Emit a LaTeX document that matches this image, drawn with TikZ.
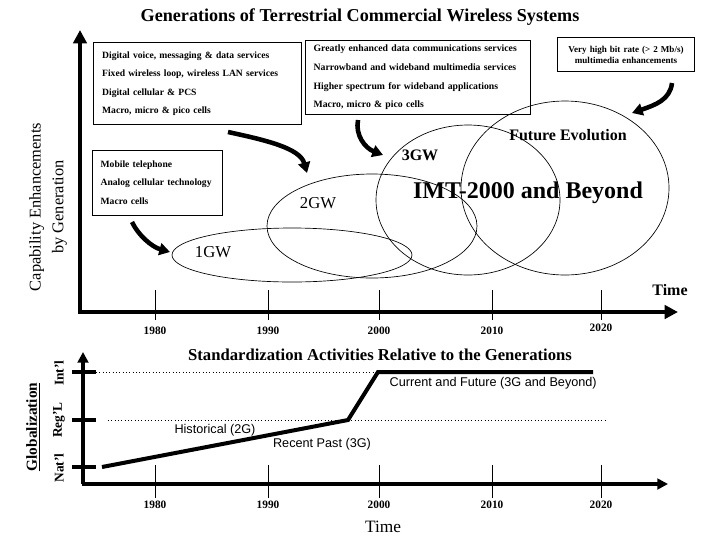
\documentclass[tikz,border=0pt]{standalone}
\usepackage{fontspec}
\setmainfont{Liberation Serif}
\newfontfamily\arialfont{Liberation Sans}
\usepackage{tikz}
\usetikzlibrary{shapes,arrows.meta}
\tikzstyle{infobox}=[draw,line width=0.6pt,inner xsep=6.5pt,inner ysep=0pt,align=left]
\tikzstyle{boxtext}=[font=\fontsize{7.2}{13.8}\selectfont\bfseries]
\tikzstyle{gen}=[ellipse,draw,line width=0.5pt,inner sep=0pt]
\tikzstyle{bigaxis}=[line width=3.6pt,-{Triangle[length=10pt,width=10pt]}]
\tikzstyle{smallaxis}=[line width=3pt,-{Triangle[length=8pt,width=8pt]}]
\tikzstyle{curvearrow}=[line width=3.4pt,-{Triangle[length=8pt,width=9pt]}]
\tikzstyle{yeartick}=[line width=0.6pt]
\tikzstyle{year}=[font=\fontsize{8.5}{8.5}\selectfont\bfseries]
\tikzstyle{levelmark}=[line width=3pt]
\tikzstyle{levelname}=[rotate=90,font=\fontsize{10}{10}\selectfont\bfseries]
\tikzstyle{era}=[font=\arialfont\fontsize{9.5}{9.5}\selectfont]

\begin{document}
\begin{tikzpicture}[x=0.75pt,y=-0.75pt]
        \useasboundingbox (0,0) rectangle (720,540);
        \node[font=\fontsize{13.6}{13.6}\selectfont\bfseries] (title) at (360,17) {Generations of Terrestrial Commercial Wireless Systems};

        % upper chart
        \coordinate (origin) at (80,312);
        \coordinate (ytop) at (80,30);
        \coordinate (xend) at (678,312);
        \draw[bigaxis] (origin) -- (ytop);
        \draw[bigaxis] ([xshift=-1.35pt]origin) -- (xend);
        \node[font=\fontsize{12}{12}\selectfont\bfseries] (time) at (670,290) {Time};
        \node[rotate=90,align=center,font=\fontsize{12.3}{17}\selectfont] (ylabel) at (48,207) {Capability Enhancements\\by Generation};

        \foreach \yr/\px in {1980/155,1990/268,2000/379,2010/492}{
            \coordinate (top\yr) at (\px,290);
            \coordinate (bot\yr) at (\px,320);
            \draw[yeartick] (top\yr) -- (bot\yr);
            \node[year] (lab\yr) at (\px,331) {\yr};
        }
        \coordinate (top2020) at (601,290);
        \coordinate (bot2020) at (601,320);
        \draw[yeartick] (top2020) -- (bot2020);
        \node[year] (lab2020) at (601,328) {2020};

        \node[infobox,boxtext,text width=143pt,minimum height=62pt] (box2g) at (197.5,83.5)
            {Digital voice, messaging \& data services\\Fixed wireless loop, wireless LAN services\\Digital cellular \& PCS\\Macro, micro \& pico cells};
        \node[infobox,boxtext,font=\fontsize{7.3}{14}\selectfont\bfseries,text width=155.75pt,minimum height=56pt] (box3g) at (417.5,77.5)
            {Greatly enhanced data communications services\\Narrowband and wideband multimedia services\\Higher spectrum for wideband applications\\Macro, micro \& pico cells};
        \node[infobox,align=center,font=\fontsize{6.8}{8.3}\selectfont\bfseries,text width=90pt,minimum height=26pt] (boxfut) at (626,54.5)
            {Very high bit rate (> 2 Mb/s)\\multimedia enhancements};
        \node[infobox,boxtext,text width=84.5pt,minimum height=48.75pt] (box1g) at (157,182.5)
            {Mobile telephone\\Analog cellular technology\\Macro cells};

        \node[gen,minimum width=180pt,minimum height=40.5pt] (gw1) at (292,255) {};
        \node[gen,minimum width=157.5pt,minimum height=78pt] (gw2) at (372,226) {};
        \node[gen,minimum width=138pt,minimum height=112.5pt] (gw3) at (468,200) {};
        \node[gen,minimum width=156pt,minimum height=130.5pt] (gwfut) at (565,188) {};
        \node[font=\fontsize{12.5}{12.5}\selectfont] (gw1lab) at (213,252) {1GW};
        \node[font=\fontsize{12.5}{12.5}\selectfont] (gw2lab) at (318,203) {2GW};
        \node[font=\fontsize{12}{12}\selectfont\bfseries] (gw3lab) at (420,155) {3GW};
        \node[font=\fontsize{12}{12}\selectfont\bfseries] (futlab) at (568,135) {Future Evolution};
        \node[font=\fontsize{18}{18}\selectfont\bfseries] (imt) at (528,193) {IMT-2000 and Beyond};

        \coordinate (a1s) at (228,132);
        \coordinate (a1e) at (307,173);
        \coordinate (a2s) at (358,120);
        \coordinate (a2e) at (383,155);
        \coordinate (a3s) at (132,222);
        \coordinate (a3e) at (170,252);
        \coordinate (a4s) at (672,83);
        \coordinate (a4e) at (632,113);
        \draw[curvearrow] (a1s) .. controls (265,140) and (300,148) .. (a1e);
        \draw[curvearrow] (a2s) .. controls (355,135) and (365,148) .. (a2e);
        \draw[curvearrow] (a3s) .. controls (138,235) and (152,247) .. (a3e);
        \draw[curvearrow] (a4s) .. controls (670,100) and (655,105) .. (a4e);

        % lower chart
        \node[font=\fontsize{12.5}{12.5}\selectfont\bfseries] (stdtitle) at (380,355) {Standardization Activities Relative to the Generations};
        \coordinate (lorigin) at (83,484);
        \coordinate (lytop) at (83,352);
        \coordinate (lxend) at (668,484);
        \draw[smallaxis] (lorigin) -- (lytop);
        \draw[smallaxis] ([xshift=-1.1pt]lorigin) -- (lxend);

        \coordinate (intl) at (96,372);
        \coordinate (regl) at (96,420);
        \coordinate (natl) at (96,467);
        \draw[levelmark] (72,372) -- (intl);
        \draw[levelmark] (72,420) -- (regl);
        \draw[levelmark] (72,467) -- (natl);
        \node[levelname] (intllab) at (59,373) {Int'l};
        \node[levelname] (regllab) at (59,420) {Reg'L};
        \node[levelname] (natllab) at (59,468) {Nat'l};
        \node[rotate=90,font=\fontsize{11.5}{11.5}\selectfont\bfseries] (glob) at (33,427) {\underline{Globalization}};

        \coordinate (p0) at (102,467);
        \coordinate (p1) at (348,420);
        \coordinate (p2) at (378,372);
        \coordinate (p3) at (593,372);
        \coordinate (dotend) at (607,420);
        \draw[dotted,line width=0.5pt] (intl) -- (p2);
        \draw[dotted,line width=0.5pt] (108,420) -- (dotend);
        \draw[line width=3pt] (p0) -- (p1) -- (p2) -- (p3);

        \foreach \yr/\px in {1980/155,1990/268,2000/379,2010/492,2020/601}{
            \coordinate (ltop\yr) at (\px,465);
            \coordinate (lbot\yr) at (\px,498);
            \draw[yeartick] (ltop\yr) -- (lbot\yr);
            \node[year] (llab\yr) at (\px,505) {\yr};
        }
        \node[font=\fontsize{13}{13}\selectfont] (ltime) at (383,527) {Time};

        \node[era,anchor=west] (curr) at (385,383) {Current and Future (3G and Beyond)};
        \node[era] (hist) at (215,430) {Historical (2G)};
        \node[era] (recent) at (322,444) {Recent Past (3G)};
\end{tikzpicture}
\end{document}
